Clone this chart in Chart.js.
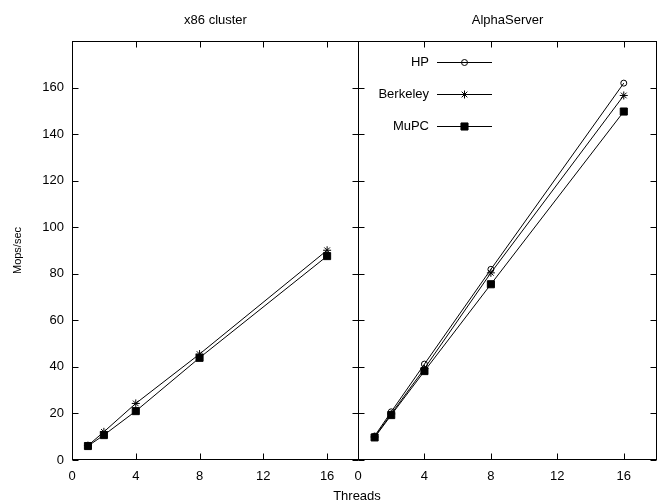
<!DOCTYPE html>
<html>
<head>
<meta charset="utf-8">
<script src="https://cdn.jsdelivr.net/npm/chart.js@4.4.1/dist/chart.umd.min.js"></script>
<style>
  body { margin: 0; background: #fff; width: 663px; height: 504px; position: relative; overflow: hidden; font-family: 'Liberation Sans', Arial, sans-serif; }
  .panel { position: absolute; top: 0; height: 504px; }
  #left { left: 0; width: 362px; }
  #right { left: 340px; width: 323px; }
  #threads { position: absolute; left: 257px; width: 200px; top: 488px; font-size: 13px; line-height: 15px; text-align: center; color: #000; }
</style>
</head>
<body>
<div class="panel" id="left"><canvas id="x86Chart"></canvas></div>
<div class="panel" id="right"><canvas id="alphaChart"></canvas></div>
<div id="threads">Threads</div>
<script>
// datos
const threads = [1, 2, 4, 8, 16];
const x86Berkeley = [6.2, 12.1, 24.3, 45.5, 90.1];
const x86MuPC = [6.0, 10.7, 21.0, 43.9, 87.6];
const alphaHP = [10.3, 20.7, 41.2, 81.9, 161.9];
const alphaBerkeley = [9.9, 19.8, 39.3, 80.4, 156.6];
const alphaMuPC = [9.7, 19.3, 38.2, 75.5, 149.7];
const xTicks = [0, 4, 8, 12, 16];
const yTicks = [0, 20, 40, 60, 80, 100, 120, 140, 160];

Chart.defaults.font.family = "'Liberation Sans', Arial, sans-serif";
Chart.defaults.color = '#000';

// estilo de cada serie (marcador tipo gnuplot)
const estilos = {
    HP: { pointStyle: 'circle', radius: 3, fill: 'rgba(0,0,0,0)' },
    Berkeley: { pointStyle: 'star', radius: 4, fill: '#000' },
    MuPC: { pointStyle: 'rect', radius: 5, fill: '#000' }
};

function serie(label, valores) {
    const e = estilos[label];
    return {
        label: label,
        data: threads.map((t, i) => ({ x: t, y: valores[i] })),
        borderColor: '#000',
        borderWidth: 1,
        backgroundColor: e.fill,
        pointStyle: e.pointStyle,
        pointRadius: e.radius,
        pointBorderColor: '#000',
        pointBorderWidth: 1,
        pointBackgroundColor: e.fill,
        tension: 0,
        fill: false
    };
}

// marco, ticks hacia adentro, titulo y leyenda al estilo gnuplot
const marcoGnuplot = {
    id: 'marcoGnuplot',
    afterDraw(chart, args, opts) {
        const { ctx, chartArea: a, scales } = chart;
        const x = scales.x, y = scales.y;
        ctx.save();
        ctx.strokeStyle = '#000';
        ctx.lineWidth = 1;
        const L = Math.round(a.left) + 0.5, R = Math.round(a.right) - 0.5;
        const T = Math.round(a.top) + 0.5, B = Math.round(a.bottom) - 0.5;
        ctx.strokeRect(L, T, R - L, B - T);
        ctx.beginPath();
        x.ticks.forEach(t => {
            const px = Math.round(x.getPixelForValue(t.value)) + 0.5;
            ctx.moveTo(px, B); ctx.lineTo(px, B - 6);
            ctx.moveTo(px, T); ctx.lineTo(px, T + 6);
        });
        y.ticks.forEach(t => {
            const py = Math.round(y.getPixelForValue(t.value)) + 0.5;
            ctx.moveTo(L, py); ctx.lineTo(L + 6, py);
            ctx.moveTo(R, py); ctx.lineTo(R - 6, py);
        });
        ctx.stroke();

        ctx.fillStyle = '#000';
        ctx.font = "13px 'Liberation Sans', Arial, sans-serif";
        ctx.textAlign = 'center';
        ctx.textBaseline = 'middle';
        ctx.fillText(opts.titulo, (a.left + a.right) / 2, 20);

        if (opts.leyenda) {
            chart.data.datasets.forEach((ds, i) => {
                const ly = Math.round(a.top + 21 + i * 32) + 0.5;
                ctx.fillStyle = '#000';
                ctx.textAlign = 'right';
                ctx.fillText(ds.label, a.left + 71, ly);
                ctx.beginPath();
                ctx.moveTo(a.left + 79, ly);
                ctx.lineTo(a.left + 134, ly);
                ctx.stroke();
                ctx.fillStyle = ds.pointBackgroundColor;
                Chart.helpers.drawPoint(ctx, {
                    pointStyle: ds.pointStyle, radius: ds.pointRadius, borderWidth: 1, rotation: 0
                }, a.left + 106.5, ly);
            });
        }
        ctx.restore();
    }
};

function opciones(titulo, esIzquierda, leyenda) {
    return {
        responsive: true,
        maintainAspectRatio: false,
        animation: false,
        layout: {
            autoPadding: false,
            padding: esIzquierda ? { left: 0, right: 3, top: 41, bottom: 0 } : { left: 18, right: 6, top: 41, bottom: 0 }
        },
        plugins: {
            legend: { display: false },
            tooltip: { enabled: false },
            marcoGnuplot: { titulo: titulo, leyenda: leyenda }
        },
        scales: {
            x: {
                type: 'linear',
                min: 0,
                max: 18,
                afterBuildTicks: s => { s.ticks = xTicks.map(v => ({ value: v })); },
                afterFit: s => { s.height = 44; s.paddingLeft = 0; s.paddingRight = 0; },
                grid: { display: false, drawTicks: false },
                border: { display: false },
                ticks: { font: { size: 13 }, padding: 9, maxRotation: 0 }
            },
            y: {
                min: 0,
                max: 180,
                afterBuildTicks: s => { s.ticks = yTicks.map(v => ({ value: v })); },
                afterFit: s => { s.width = esIzquierda ? 72 : 0; s.paddingTop = 0; s.paddingBottom = 0; },
                grid: { display: false, drawTicks: false },
                border: { display: false },
                ticks: { display: esIzquierda, font: { size: 13 }, padding: 8 },
                title: { display: esIzquierda, text: 'Mops/sec', font: { size: 11 }, padding: { top: 11, bottom: 0 } }
            }
        }
    };
}

new Chart(document.getElementById('x86Chart'), {
    type: 'line',
    data: { datasets: [serie('Berkeley', x86Berkeley), serie('MuPC', x86MuPC)] },
    options: opciones('x86 cluster', true, false),
    plugins: [marcoGnuplot]
});

new Chart(document.getElementById('alphaChart'), {
    type: 'line',
    data: { datasets: [serie('HP', alphaHP), serie('Berkeley', alphaBerkeley), serie('MuPC', alphaMuPC)] },
    options: opciones('AlphaServer', false, true),
    plugins: [marcoGnuplot]
});
</script>
</body>
</html>
